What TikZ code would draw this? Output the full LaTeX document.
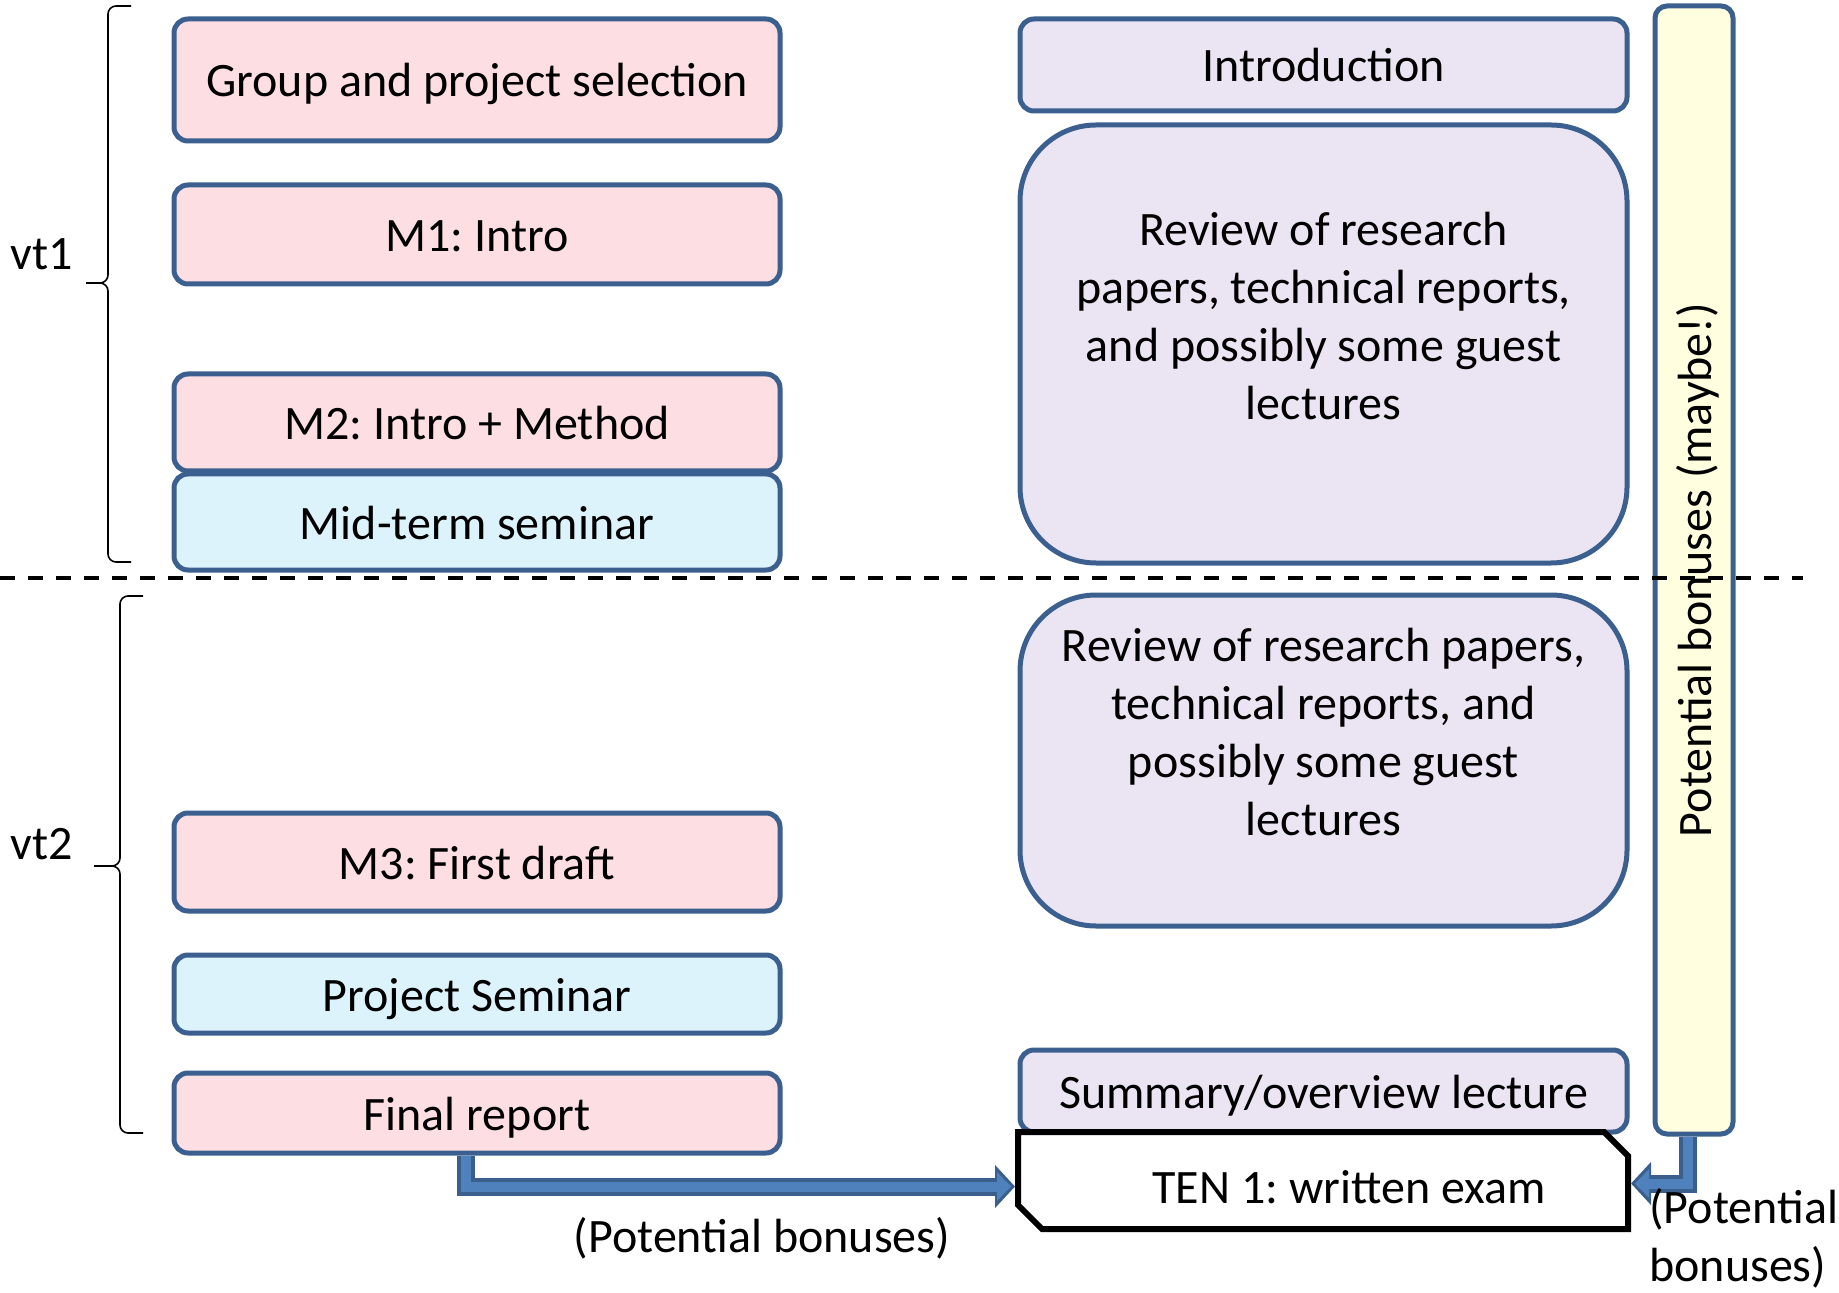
\documentclass[tikz,border=0pt]{standalone}
\usepackage{fontspec}
\setmainfont{Carlito}
\usetikzlibrary{arrows.meta, positioning, calc, shapes.misc}

\definecolor{boxborder}{HTML}{3B5F8E}
\definecolor{taskpink}{HTML}{FDDEE2}
\definecolor{seminarblue}{HTML}{DDF3FC}
\definecolor{lecturelilac}{HTML}{EAE4F3}
\definecolor{bonusyellow}{HTML}{FFFFDF}
\definecolor{arrowlight}{HTML}{4F81BD}
\definecolor{arrowdark}{HTML}{3A5F8D}

\tikzset{
  txt/.style={font=\fontsize{24}{29}\selectfont, align=center, inner sep=0pt},
  box/.style={txt, draw=boxborder, line width=2.5pt, rounded corners=7pt,
    text height=19pt, text depth=2pt},
  task/.style={box, fill=taskpink, minimum width=303pt},
  seminar/.style={box, fill=seminarblue, minimum width=303pt},
  lecture/.style={box, fill=lecturelilac, minimum width=303.5pt},
  exam/.style={txt, draw=black, line width=3pt, fill=white, chamfered rectangle,
    chamfered rectangle corners={north east, south west}, chamfered rectangle sep=6pt,
    minimum width=305pt, minimum height=48.5pt, text height=25.4pt, text depth=2pt},
  arrowouter/.style={line width=9pt, draw=arrowdark, -{Triangle[length=10pt, width=21pt]}},
  arrowinner/.style={line width=5pt, draw=arrowlight, shorten >=2pt, -{Triangle[length=7pt, width=14pt]}},
  splitline/.style={line width=2pt, dash pattern=on 7.5pt off 6.5pt},
  bracket/.style={line width=0.8pt, rounded corners=4pt},
}

\begin{document}
\frenchspacing
\begin{tikzpicture}[x=0.5pt, y=-0.5pt]
    \useasboundingbox (0,0) rectangle (1839,1293);

    % Project tasks
    \node[task, minimum height=61pt] (group) at (477,80) {Group and project selection};
    \node[task, minimum height=49.5pt] (m1) at (477,234.5) {M1: Intro};
    \node[task, minimum height=48.5pt] (m2) at (477,422.5) {M2: Intro + Method};
    \node[seminar, minimum height=48pt] (midterm) at (477,522) {Mid-term seminar};
    \node[task, minimum height=49pt] (m3) at (477,862) {M3: First draft};
    \node[seminar, minimum height=39pt] (projsem) at (477,994) {Project Seminar};
    \node[task, minimum height=40pt] (final) at (477,1113) {Final report};

    % Lectures
    \node[lecture, minimum height=46pt] (intro) at (1323.5,65) {Introduction};
    \node[lecture, minimum height=219pt, rounded corners=38pt,
      label={[txt, yshift=14pt]center:{Review of research\\papers, technical reports,\\and possibly some guest\\lectures}}]
      (review1) at (1323.5,344) {};
    \node[lecture, minimum height=165.5pt, rounded corners=38pt,
      label={[txt, yshift=14pt]center:{Review of research papers,\\technical reports, and\\possibly some guest\\lectures}}]
      (review2) at (1323.5,760.5) {};
    \node[lecture, minimum height=41pt] (summary) at (1323.5,1091) {Summary/overview lecture};
    \node[exam] (ten) at (1323,1180.5) {\hspace*{26pt}TEN 1: written exam};

    % Bonus bar
    \node[box, fill=bonusyellow, rotate=90, minimum width=564pt, minimum height=39pt,
      rounded corners=6pt] (bonus) at (1694,570) {Potential bonuses (maybe!)};

    % Split between study periods
    \coordinate (split west) at (0,578);
    \coordinate (split east) at (1803,578);
    \draw[splitline] (split west) -- (split east);

    % Periods
    \draw[bracket] (131,6) -- (108,6) -- (108,283) -- (86,283);
    \draw[bracket] (131,562) -- (108,562) -- (108,283) -- (86,283);
    \node[txt] (vt1) at (42,254) {vt1};
    \draw[bracket] (143,596) -- (120,596) -- (120,866) -- (94,866);
    \draw[bracket] (143,1133) -- (120,1133) -- (120,866) -- (94,866);
    \node[txt] (vt2) at (42,844) {vt2};

    % Bonus arrows
    \draw[arrowouter] ([xshift=-5.5pt]final.south) |- ([yshift=-3pt]ten.west);
    \draw[arrowinner] ([xshift=-5.5pt]final.south) |- ([yshift=-3pt]ten.west);
    \draw[arrowouter] ([xshift=-3pt]bonus.west) |- ([yshift=-1.5pt]ten.east);
    \draw[arrowinner] ([xshift=-3pt]bonus.west) |- ([yshift=-1.5pt]ten.east);
    \node[txt] (bonuslabel) at (762,1238) {(Potential bonuses)};
    \node[txt, align=left, anchor=west] (examlabel) at (1649,1238) {(Potential\\bonuses)};
\end{tikzpicture}
\end{document}
